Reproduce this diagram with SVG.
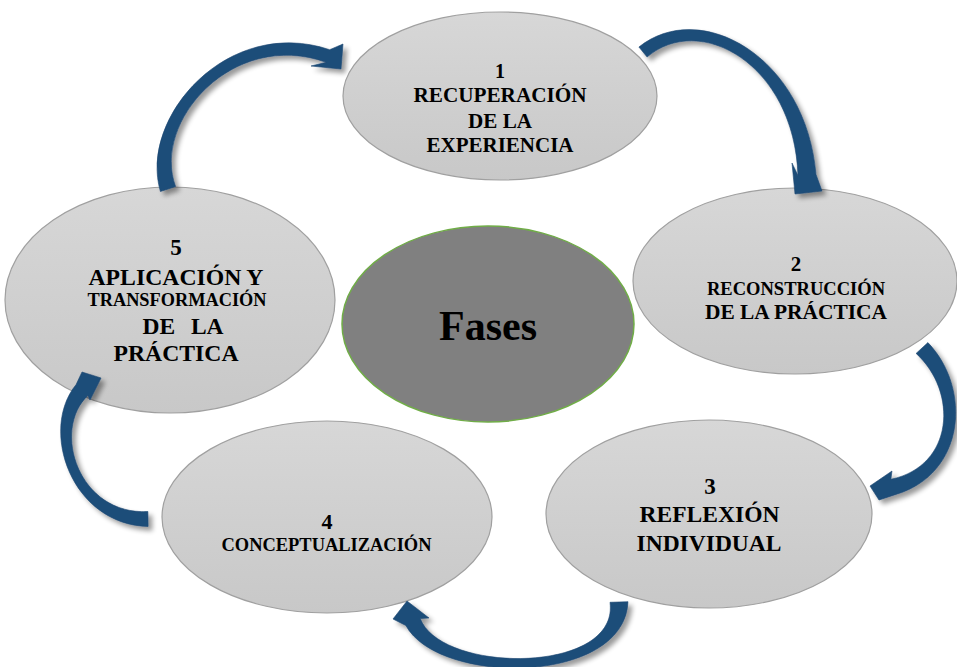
<svg xmlns="http://www.w3.org/2000/svg" width="957" height="667" viewBox="0 0 957 667">
  <defs>
    <linearGradient id="gFill" x1="0" y1="0" x2="0" y2="1">
      <stop offset="0" stop-color="#d7d7d7"/>
      <stop offset="1" stop-color="#c8c8c8"/>
    </linearGradient>
    <filter id="sh" x="-20%" y="-20%" width="140%" height="140%">
      <feGaussianBlur in="SourceAlpha" stdDeviation="2.5"/>
      <feOffset dx="4" dy="4" result="o"/>
      <feComponentTransfer in="o" result="s">
        <feFuncA type="linear" slope="0.4"/>
      </feComponentTransfer>
      <feMerge>
        <feMergeNode in="s"/>
        <feMergeNode in="SourceGraphic"/>
      </feMerge>
    </filter>
  </defs>
  <style>
    .node { fill: url(#gFill); stroke: #a0a0a0; stroke-width: 1.2; }
    .center { fill: #808080; stroke: #70ad47; stroke-width: 1.5; }
    .t { font-family: "Liberation Serif", "Times New Roman", serif; font-weight: bold; fill: #000; text-anchor: middle; }
    .arrow { fill: #1f4e79; stroke: #1c4772; stroke-width: 0.6; stroke-linejoin: miter; }
  </style>
  <rect width="957" height="667" fill="#ffffff"/>

  <g id="node-center">
    <ellipse class="center" cx="488" cy="324" rx="146" ry="98"/>
    <text class="t" x="488" y="340" font-size="42">Fases</text>
  </g>

  <g id="node-1">
    <ellipse class="node" cx="500" cy="96" rx="157" ry="84"/>
    <text class="t" x="500" y="78" font-size="20">1</text>
    <text class="t" x="500" y="101.5" font-size="20" textLength="173" lengthAdjust="spacingAndGlyphs">RECUPERACIÓN</text>
    <text class="t" x="500" y="127.5" font-size="20" textLength="64" lengthAdjust="spacingAndGlyphs">DE LA</text>
    <text class="t" x="500" y="151.5" font-size="20" textLength="147" lengthAdjust="spacingAndGlyphs">EXPERIENCIA</text>
  </g>

  <g id="node-2">
    <ellipse class="node" cx="795" cy="281" rx="162" ry="93"/>
    <text class="t" x="796" y="271" font-size="21">2</text>
    <text class="t" x="796" y="294.5" font-size="18.5" textLength="178" lengthAdjust="spacingAndGlyphs">RECONSTRUCCIÓN</text>
    <text class="t" x="796" y="318.5" font-size="21.5" textLength="182" lengthAdjust="spacingAndGlyphs">DE LA PRÁCTICA</text>
  </g>

  <g id="node-3">
    <ellipse class="node" cx="709" cy="514" rx="163" ry="94"/>
    <text class="t" x="710" y="494" font-size="23">3</text>
    <text class="t" x="709.5" y="521.5" font-size="23.5" textLength="140" lengthAdjust="spacingAndGlyphs">REFLEXIÓN</text>
    <text class="t" x="709" y="551" font-size="23.5" textLength="145" lengthAdjust="spacingAndGlyphs">INDIVIDUAL</text>
  </g>

  <g id="node-4">
    <ellipse class="node" cx="327" cy="517" rx="165" ry="96"/>
    <text class="t" x="327" y="528.5" font-size="22">4</text>
    <text class="t" x="326.5" y="551" font-size="18.5" textLength="210" lengthAdjust="spacingAndGlyphs">CONCEPTUALIZACIÓN</text>
  </g>

  <g id="node-5">
    <ellipse class="node" cx="170" cy="300" rx="165" ry="113"/>
    <text class="t" x="176" y="255" font-size="23">5</text>
    <text class="t" x="176" y="284.5" font-size="23" textLength="175" lengthAdjust="spacingAndGlyphs">APLICACIÓN Y</text>
    <text class="t" x="177" y="306" font-size="18" textLength="179" lengthAdjust="spacingAndGlyphs">TRANSFORMACIÓN</text>
    <text class="t" x="183" y="333.5" font-size="23.5" word-spacing="10">DE LA</text>
    <text class="t" x="176" y="361" font-size="23.5" textLength="125" lengthAdjust="spacingAndGlyphs">PRÁCTICA</text>
  </g>

  <g id="connectors" filter="url(#sh)">
    <path id="arrow-5-1" class="arrow" d="M160.4,191.5 C138.5,117.5 227.7,15.4 329.7,49.7 L343,44 L341,69 L311,66 L326.3,62.3 C232.3,28.6 151.5,122.5 175.6,186.5 Z"/>
    <path id="arrow-1-2" class="arrow" d="M638.9,47 C700.4,-2 805.9,56.3 816,174.5 L822,191 L795,194 L792,163 L798,175.5 C794.1,63.7 699.6,12 647.1,57 Z"/>
    <path id="arrow-2-3" class="arrow" d="M927.9,342.6 C971.8,388.2 965.8,474 895.1,494.7 L879,500 L870,486 L892,471 L890.9,479.3 C954.2,466 958.2,391.8 916.1,353.4 Z"/>
    <path id="arrow-3-4" class="arrow" d="M628,601.7 C624.4,685.5 438.4,685.8 405.8,625.4 L393,619 L407,601 L429,618 L420.2,618.6 C441.6,674.2 619.6,674.5 610,602.3 Z"/>
    <path id="arrow-4-5" class="arrow" d="M148.1,526.5 C71.1,524.5 39,429.7 76.1,384.6 L82,372 L101,378 L90,400 L87.9,395.4 C51,430.3 78.9,515.5 147.9,511.5 Z"/>
  </g>
</svg>
